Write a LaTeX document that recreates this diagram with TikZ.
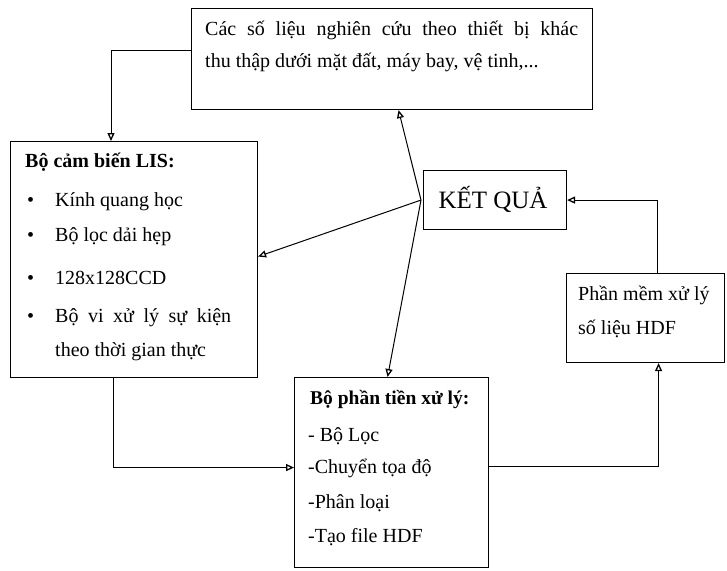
\documentclass[tikz,border=0pt]{standalone}
\usepackage{fontspec}
\setmainfont{Liberation Serif}
\usetikzlibrary{arrows.meta}
\begin{document}
\begin{tikzpicture}[x=1pt,y=-1pt,
  box/.style={draw, line width=1.1pt, inner sep=0pt, anchor=north west},
  txt/.style={anchor=base west, inner sep=0pt, font=\fontsize{20}{23}\selectfont},
  conn/.style={line width=1pt, -{Triangle[open,length=8pt,width=7pt,line width=1.3pt]}},
]
\useasboundingbox (0,0) rectangle (727,570);

% boxes
\node[box, minimum width=401pt, minimum height=101pt] (top) at (191,8) {};
\node[box, minimum width=247pt, minimum height=236pt] (lis) at (10,141) {};
\node[box, minimum width=143pt, minimum height=59pt] (kq) at (423,170) {};
\node[box, minimum width=194pt, minimum height=190pt] (tien) at (294,377) {};
\node[box, minimum width=158pt, minimum height=89pt] (mem) at (566,273) {};

% top box text
\node[txt] (t1) at (205,35) {\makebox[373pt][s]{Các số liệu nghiên cứu theo thiết bị khác}};
\node[txt] (t2) at (205,67) {thu thập dưới mặt đất, máy bay, vệ tinh,...};

% LIS box text
\node[txt, font=\bfseries\fontsize{20}{23}\selectfont] (l0) at (25,167) {Bộ cảm biến LIS:};
\node[txt] (b1) at (27,206) {•};
\node[txt] (l1) at (55,206) {Kính quang học};
\node[txt] (b2) at (27,241) {•};
\node[txt] (l2) at (55,241) {Bộ lọc dải hẹp};
\node[txt] (b3) at (27,284) {•};
\node[txt] (l3) at (55,284) {128x128CCD};
\node[txt] (b4) at (27,322) {•};
\node[txt] (l4) at (55,322) {\makebox[176pt][s]{Bộ vi xử lý sự kiện}};
\node[txt] (l5) at (55,356) {theo thời gian thực};

% KET QUA
\node[anchor=base, inner sep=0pt, font=\fontsize{25}{25}\selectfont] (kqt) at (493,208) {KẾT QUẢ};

% Tien xu ly text
\node[txt, font=\bfseries\fontsize{19.5}{22}\selectfont] (p0) at (310,404) {Bộ phần tiền xử lý:};
\node[txt] (p1) at (308,441) {- Bộ Lọc};
\node[txt] (p2) at (308,473) {-Chuyển tọa độ};
\node[txt] (p3) at (308,508) {-Phân loại};
\node[txt] (p4) at (308,542) {-Tạo file HDF};

% Phan mem text
\node[txt] (m1) at (578,300) {Phần mềm xử lý};
\node[txt] (m2) at (578,334) {số liệu HDF};

% connectors
\draw[conn] ([yshift=8.5pt]top.west) -| ([xshift=101pt]lis.north west);
\draw[conn] ([xshift=103pt]lis.south west) |- ([yshift=5pt]tien.west);
\draw[conn] ([yshift=6pt]tien.east) -| ([xshift=13pt]mem.south);
\draw[conn] ([xshift=12pt]mem.north) |- (kq.east);
\coordinate (hub) at ([xshift=-2pt]kq.west);
\draw[conn] (hub) -- ([xshift=6.5pt]top.south);
\draw[conn] (hub) -- ([yshift=3pt]lis.east);
\draw[conn] (hub) -- ([xshift=-4pt]tien.north);
\end{tikzpicture}
\end{document}
